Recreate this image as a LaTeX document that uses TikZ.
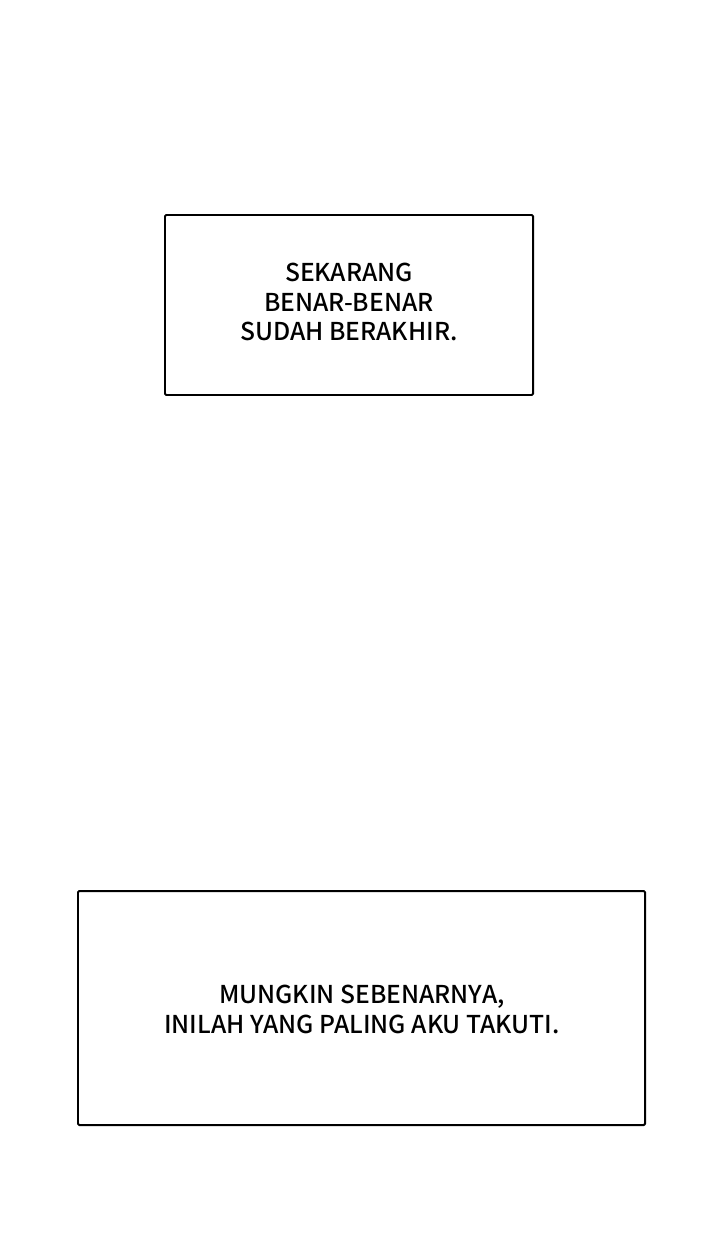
\documentclass[tikz,border=0pt]{standalone}
\usepackage{fontspec}
\setmainfont{Noto Sans CJK KR}[UprightFont=* Medium]
\begin{document}
\begin{tikzpicture}[line cap=round,line join=round,x=0.03cm,y=-0.03cm,
  panel/.style={line width=1.7pt,rounded corners=1pt},
  caption/.style={align=center,font=\fontsize{21}{25.5}\selectfont,inner sep=0pt}]
				\useasboundingbox (0,0) rectangle (700,1240);
				\draw [panel] (165,215) rectangle (533,395);
				\draw [panel] (78,891) rectangle (645,1125);
				\node[caption] (first) at (349,302) {SEKARANG\\BENAR-BENAR\\SUDAH BERAKHIR.};
				\node[caption] (second) at (362,1009) {MUNGKIN SEBENARNYA,\\INILAH YANG PALING AKU TAKUTI.};
			\end{tikzpicture}
\end{document}
